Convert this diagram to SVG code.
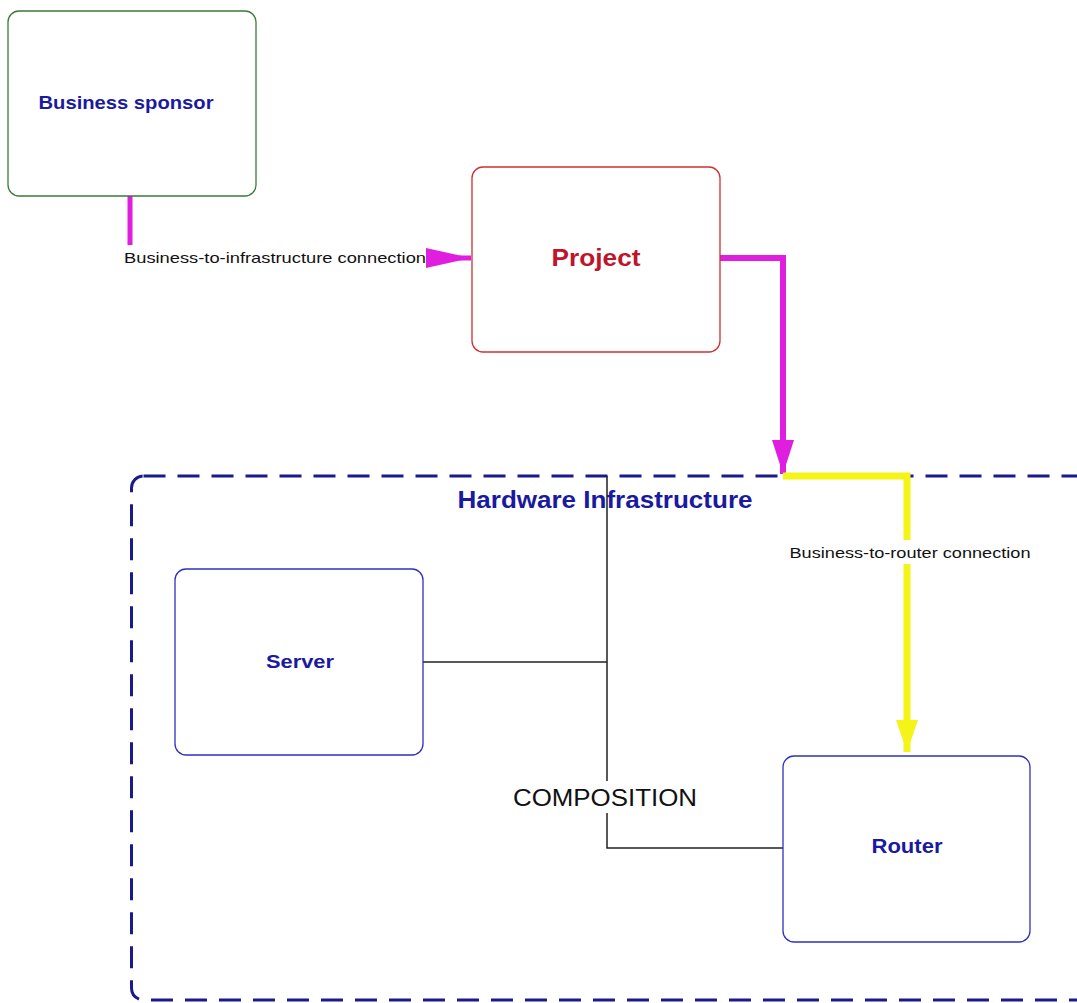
<svg xmlns="http://www.w3.org/2000/svg" width="1077" height="1003" viewBox="0 0 1077 1003">
<defs>
<style>
.node{fill:#fff;stroke-width:1.3}
.lbl{font-family:"Liberation Sans",Arial,sans-serif;font-weight:bold;text-anchor:middle}
.clbl{font-family:"Liberation Sans",Arial,sans-serif;font-size:15px;fill:#111;text-anchor:middle}
.comp{fill:none;stroke:#222;stroke-width:1.5}
</style>
<marker id="magH" viewBox="0 0 10 10" refX="10" refY="5" markerWidth="45" markerHeight="20" markerUnits="userSpaceOnUse" preserveAspectRatio="none" orient="auto">
<path d="M0,0 L10,5 L0,10 Z" fill="#e01ee0"/>
</marker>
<marker id="magV" viewBox="0 0 10 10" refX="10" refY="5" markerWidth="34" markerHeight="22" markerUnits="userSpaceOnUse" preserveAspectRatio="none" orient="auto">
<path d="M0,0 L10,5 L0,10 Z" fill="#e01ee0"/>
</marker>
<marker id="yel" viewBox="0 0 10 10" refX="10" refY="5" markerWidth="32" markerHeight="22" markerUnits="userSpaceOnUse" preserveAspectRatio="none" orient="auto">
<path d="M0,0 L10,5 L0,10 Z" fill="#f4f418"/>
</marker>
</defs>
<rect width="1077" height="1003" fill="#fff"/>
<g id="hardware-infrastructure">
<rect x="131.5" y="476" width="960" height="524" rx="12" fill="none" stroke="#1a1a8c" stroke-width="3" stroke-dasharray="22,12"/>
<text class="lbl" x="605" y="508" font-size="23" fill="#1a1aa0" textLength="295" lengthAdjust="spacingAndGlyphs">Hardware Infrastructure</text>
</g>
<g id="connectors">
<path class="comp" d="M423,662 H607 M607,476 V848 H783"/>
<rect x="511" y="781" width="190" height="32" fill="#fff"/>
<text x="605" y="806" font-family="'Liberation Sans',Arial,sans-serif" font-size="23" fill="#111" text-anchor="middle" textLength="184" lengthAdjust="spacingAndGlyphs">COMPOSITION</text>
<path d="M130,196 V258 H471" fill="none" stroke="#e01ee0" stroke-width="5" marker-end="url(#magH)"/>
<rect x="122" y="245" width="304" height="21" fill="#fff"/>
<text class="clbl" x="275" y="263" textLength="302" lengthAdjust="spacingAndGlyphs">Business-to-infrastructure connection</text>
<path d="M720,258 H783 V474" fill="none" stroke="#e01ee0" stroke-width="6" marker-end="url(#magV)"/>
<path d="M783,476 H907 V752" fill="none" stroke="#f4f418" stroke-width="7" marker-end="url(#yel)"/>
<rect x="787" y="540" width="246" height="24" fill="#fff"/>
<text class="clbl" x="910" y="558" textLength="241" lengthAdjust="spacingAndGlyphs">Business-to-router connection</text>
</g>
<g id="business-sponsor">
<rect class="node" x="8" y="11" width="248" height="185" rx="11" stroke="#3a7a3a"/>
<text class="lbl" x="126" y="109" font-size="19" fill="#1a1aa0" textLength="175" lengthAdjust="spacingAndGlyphs">Business sponsor</text>
</g>
<g id="project">
<rect class="node" x="472" y="167" width="248" height="185" rx="11" stroke="#d03030"/>
<text class="lbl" x="596" y="266" font-size="24" fill="#c0142a" textLength="89" lengthAdjust="spacingAndGlyphs">Project</text>
</g>
<g id="server">
<rect class="node" x="175" y="569" width="248" height="186" rx="11" stroke="#3030c0"/>
<text class="lbl" x="300" y="668" font-size="19" fill="#1a1aa0" textLength="68" lengthAdjust="spacingAndGlyphs">Server</text>
</g>
<g id="router">
<rect class="node" x="783" y="756" width="247" height="186" rx="11" stroke="#3030c0"/>
<text class="lbl" x="907" y="853" font-size="20" fill="#1a1aa0" textLength="71" lengthAdjust="spacingAndGlyphs">Router</text>
</g>
</svg>
